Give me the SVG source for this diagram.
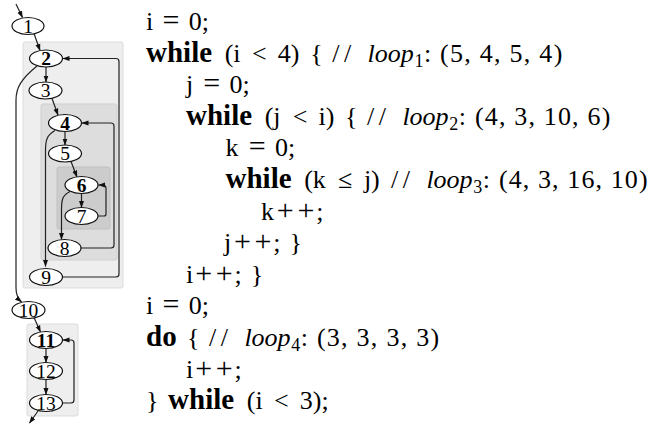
<svg xmlns="http://www.w3.org/2000/svg" width="655" height="424" viewBox="0 0 655 424">
<style>
.n ellipse{fill:#fff;stroke:#111;stroke-width:1.2}
.n text{font-family:"Liberation Serif",serif;font-size:19.5px;text-anchor:middle;fill:#000}
.b text{font-weight:bold}
.e path{fill:none;stroke:#222;stroke-width:1.2}
.c{font-family:"Liberation Serif",serif;font-size:26px;fill:#000}
.k{font-weight:bold;font-size:29px}
.it{font-style:italic}
.sub{font-size:18px}
.op{font-size:30px}
</style>
<defs>
<marker id="a" markerWidth="7" markerHeight="6" refX="6.5" refY="3" orient="auto" markerUnits="userSpaceOnUse">
<path d="M0,0.5 L7,3 L0,5.5 z" fill="#111"/>
</marker>
</defs>
<g id="clusters">
<rect id="loop1" x="23" y="42" width="100" height="246" rx="2" fill="#eeeeee" stroke="#dcdcdc"/>
<rect id="loop2" x="41" y="104" width="76" height="156" rx="2" fill="#dddddd" stroke="#cfcfcf"/>
<rect id="loop3" x="57" y="167" width="53" height="62" rx="2" fill="#cccccc" stroke="#c0c0c0"/>
<rect id="loop4" x="27" y="324" width="51" height="92" rx="2" fill="#eeeeee" stroke="#dcdcdc"/>
</g>
<g id="connectors" class="e">
<path d="M16,4 L22.5,17.5" marker-end="url(#a)"/>
<path d="M34,33.5 L40,50.5" marker-end="url(#a)"/>
<path d="M46,67 L46,82" marker-end="url(#a)"/>
<path d="M52,98.5 L58,115" marker-end="url(#a)"/>
<path d="M65,131.5 L65,145" marker-end="url(#a)"/>
<path d="M71,161.5 L77,177" marker-end="url(#a)"/>
<path d="M81.5,193.5 L81.5,207.5" marker-end="url(#a)"/>
<path d="M70,191.5 C63,195 61.5,199 61.5,209 L61.5,239.5" marker-end="url(#a)"/>
<path d="M55,130.5 C47,135 45.5,140 45.5,150 L45.5,266.5" marker-end="url(#a)"/>
<path d="M37,66 C21,79 16,88 16,100 L16,288 C16,295 18,299 21.5,302" marker-end="url(#a)"/>
<path d="M34,317.5 L40.5,332" marker-end="url(#a)"/>
<path d="M46,348.5 L46,362.5" marker-end="url(#a)"/>
<path d="M46,379.5 L46,394.5" marker-end="url(#a)"/>
<path d="M38,411 L29.5,423" marker-end="url(#a)"/>
<path d="M98,216 L104,216 Q106,216 106,214 L106,188 Q106,185 103,185 L98.5,185" marker-end="url(#a)"/>
<path d="M81,248 L111,248 Q114,248 114,245 L114,126 Q114,123 111,123 L82,123" marker-end="url(#a)"/>
<path d="M62.5,277 L116,277 Q119,277 119,274 L119,61.5 Q119,58.5 116,58.5 L63,58.5" marker-end="url(#a)"/>
<path d="M62.5,403 L71,403 Q74,403 74,400 L74,343 Q74,340 71,340 L63,340" marker-end="url(#a)"/>
</g>
<g id="n1" class="n"><ellipse cx="28" cy="26" rx="16" ry="8.5"/><text x="28" y="32.5">1</text></g>
<g id="n2" class="n b"><ellipse cx="46" cy="58.5" rx="16.5" ry="8.5"/><text x="46" y="65">2</text></g>
<g id="n3" class="n"><ellipse cx="45.5" cy="90.5" rx="16.5" ry="8.5"/><text x="45.5" y="97">3</text></g>
<g id="n4" class="n b"><ellipse cx="65" cy="123" rx="16.5" ry="8.5"/><text x="65" y="129.5">4</text></g>
<g id="n5" class="n"><ellipse cx="65" cy="153.5" rx="16.5" ry="8.5"/><text x="65" y="160">5</text></g>
<g id="n6" class="n b"><ellipse cx="81.5" cy="185" rx="16.5" ry="8.5"/><text x="81.5" y="191.5">6</text></g>
<g id="n7" class="n"><ellipse cx="81.5" cy="216" rx="16.5" ry="8.5"/><text x="81.5" y="222.5">7</text></g>
<g id="n8" class="n"><ellipse cx="64.5" cy="248" rx="16.5" ry="8.5"/><text x="64.5" y="254.5">8</text></g>
<g id="n9" class="n"><ellipse cx="46" cy="277" rx="16.5" ry="8.5"/><text x="46" y="283.5">9</text></g>
<g id="n10" class="n"><ellipse cx="28.5" cy="310" rx="16.5" ry="8.5"/><text x="28.5" y="316.5">10</text></g>
<g id="n11" class="n b"><ellipse cx="46" cy="340" rx="16.5" ry="8.5"/><text x="46" y="346.5">11</text></g>
<g id="n12" class="n"><ellipse cx="46" cy="371" rx="16.5" ry="8.5"/><text x="46" y="377.5">12</text></g>
<g id="n13" class="n"><ellipse cx="46" cy="403" rx="16.5" ry="8.5"/><text x="46" y="409.5">13</text></g>
<g id="code" class="c">
<text y="30"><tspan x="146">i</tspan><tspan x="162.5" class="op">=</tspan><tspan x="188.7">0;</tspan></text>
<text y="61.6"><tspan x="146" class="k">while</tspan><tspan x="224.7">(i</tspan><tspan x="252">&lt;</tspan><tspan x="277.8">4)</tspan><tspan x="310.2">{</tspan><tspan x="332.3" textLength="19">//</tspan><tspan x="367.6" class="it">loop</tspan><tspan x="414.5" dy="5" class="sub">1</tspan><tspan x="423.9" dy="-5">:</tspan><tspan x="440.1" textLength="122.2">(5, 4, 5, 4)</tspan></text>
<text y="93.2"><tspan x="186">j</tspan><tspan x="203.3" class="op">=</tspan><tspan x="229.5">0;</tspan></text>
<text y="124.8"><tspan x="186" class="k">while</tspan><tspan x="264.7">(j</tspan><tspan x="292.7">&lt;</tspan><tspan x="318.5">i)</tspan><tspan x="345">{</tspan><tspan x="367.1" textLength="19">//</tspan><tspan x="402.4" class="it">loop</tspan><tspan x="449.3" dy="5" class="sub">2</tspan><tspan x="458.7" dy="-5">:</tspan><tspan x="474.9" textLength="135.4">(4, 3, 10, 6)</tspan></text>
<text y="156.4"><tspan x="225.5">k</tspan><tspan x="248.7" class="op">=</tspan><tspan x="274.9">0;</tspan></text>
<text y="188"><tspan x="225.5" class="k">while</tspan><tspan x="304.2">(k</tspan><tspan x="338">≤</tspan><tspan x="363.9">j)</tspan><tspan x="391.1" textLength="19">//</tspan><tspan x="426.4" class="it">loop</tspan><tspan x="473.3" dy="5" class="sub">3</tspan><tspan x="482.7" dy="-5">:</tspan><tspan x="498.9" textLength="148.7">(4, 3, 16, 10)</tspan></text>
<text y="219.6"><tspan x="261">k</tspan><tspan x="276.8" class="op">+</tspan><tspan x="297.4" class="op">+</tspan><tspan x="316.2">;</tspan></text>
<text y="251.2"><tspan x="224">j</tspan><tspan x="233.9" class="op">+</tspan><tspan x="254.5" class="op">+</tspan><tspan x="273.3">;</tspan><tspan x="289.5">}</tspan></text>
<text y="282.8"><tspan x="186">i</tspan><tspan x="195.2" class="op">+</tspan><tspan x="215.8" class="op">+</tspan><tspan x="234.6">;</tspan><tspan x="250.8">}</tspan></text>
<text y="314.4"><tspan x="146">i</tspan><tspan x="162.5" class="op">=</tspan><tspan x="188.7">0;</tspan></text>
<text y="346"><tspan x="146" class="k">do</tspan><tspan x="187">{</tspan><tspan x="209.1" textLength="19">//</tspan><tspan x="244.4" class="it">loop</tspan><tspan x="291.3" dy="5" class="sub">4</tspan><tspan x="300.7" dy="-5">:</tspan><tspan x="316.9" textLength="122.2">(3, 3, 3, 3)</tspan></text>
<text y="377.6"><tspan x="186">i</tspan><tspan x="195.2" class="op">+</tspan><tspan x="215.8" class="op">+</tspan><tspan x="234.6">;</tspan></text>
<text y="409.2"><tspan x="146">}</tspan><tspan x="168.1" class="k">while</tspan><tspan x="246.8">(i</tspan><tspan x="274">&lt;</tspan><tspan x="299.8">3);</tspan></text>
</g>
</svg>
